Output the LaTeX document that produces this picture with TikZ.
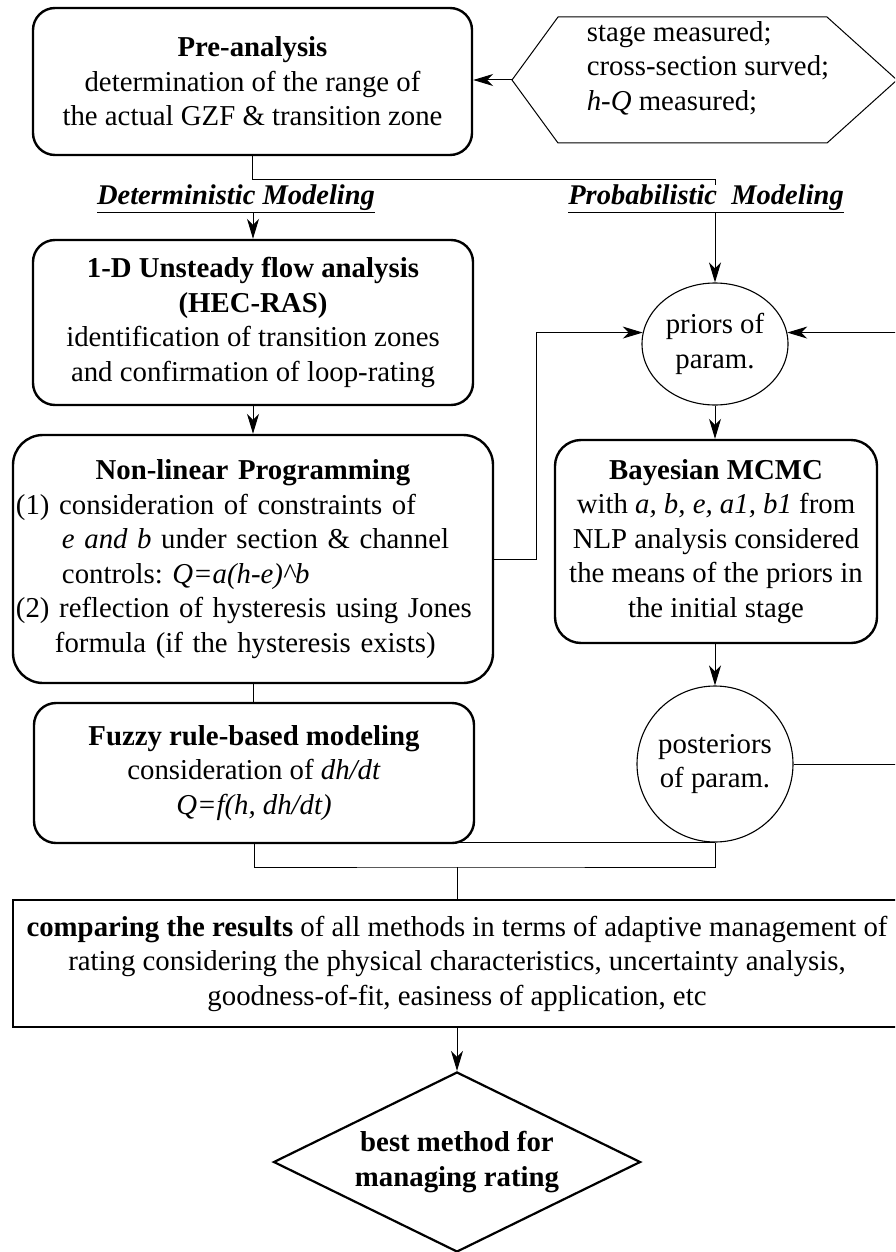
\documentclass[tikz,border=0pt]{standalone}
\usepackage{fontspec}
\setmainfont{Liberation Serif}
\usetikzlibrary{arrows.meta,shapes.geometric,calc}
\frenchspacing
\begin{document}
\begin{tikzpicture}[x=1pt,y=-1pt,
  every node/.style={font=\fontsize{28.8}{34.5}\selectfont},
  rbox/.style={draw, line width=2.4pt, rounded corners=22pt, align=center, inner sep=0pt},
  conn/.style={line width=1pt},
  arr/.style={conn, -{Stealth[length=20pt,width=12pt,inset=6pt]}},
  bubble/.style={draw, line width=1.1pt, ellipse, inner sep=0pt, align=center},
  tag/.style={font=\fontsize{28.5}{34}\selectfont\bfseries\itshape, inner sep=0pt}
]
\path[use as bounding box] (0,0) rectangle (895,1252);
\clip (0,0) rectangle (895,1252);

% field data feeding the pre-analysis
\node[align=left, inner sep=0pt] (meas) at (708,68) {stage measured;\\cross-section surved;\\\textit{h-Q} measured;};
\draw[line width=1pt] (512,80) -- (558,17) -- (827,17) -- (897,80) -- (827,143) -- (558,143) -- cycle;
\coordinate (measTip) at (512,80);

% deterministic branch
\node[rbox, minimum width=439pt, minimum height=147pt] (pre) at (252.5,81.5)
  {\textbf{Pre-analysis}\\determination of the range of\\the actual GZF \& transition zone};
\node[tag] (det) at (236,199) {\underline{Deterministic Modeling}};
\node[tag] (prob) at (706,199) {\underline{Probabilistic\ \ Modeling}};

\node[rbox, minimum width=440pt, minimum height=165pt] (flow) at (253,322.5)
  {\textbf{1-D Unsteady flow analysis}\\\textbf{(HEC-RAS)}\\identification of transition zones\\and confirmation of loop-rating};

\node[rbox, rounded corners=30pt, minimum width=480pt, minimum height=248pt, text width=474pt, align=left] (nlp) at (253,559)
  {\makebox[\linewidth][c]{\textbf{Non-linear Programming}}\\
   (1) consideration of constraints of\\
   \hspace*{46pt}\textit{e and b} under section \& channel\\
   \hspace*{46pt}controls: \textit{Q=a(h-e)\textasciicircum b}\\
   (2) reflection of hysteresis using Jones\\
   \hspace*{39pt}formula (if the hysteresis exists)};

\node[rbox, minimum width=440pt, minimum height=140pt] (fuzzy) at (254,773)
  {\textbf{Fuzzy rule-based modeling}\\consideration of \textit{dh/dt}\\\textit{Q=f(h, dh/dt)}};

% probabilistic branch
\node[bubble, minimum width=146pt, minimum height=122pt] (priors) at (715,344) {priors of\\param.};
\node[rbox, rounded corners=26pt, minimum width=322pt, minimum height=203pt] (bayes) at (716,541.5)
  {\textbf{Bayesian MCMC}\\with \textit{a, b, e, a1, b1} from\\NLP analysis considered\\the means of the priors in\\the initial stage};
\node[bubble, circle, minimum size=156pt] (post) at (715,764) {posteriors\\of param.};

% comparison and decision
\node[draw, line width=2.5pt, minimum width=888pt, minimum height=127pt, align=center, inner sep=0pt] (comp) at (457,963.5)
  {\textbf{comparing the results} of all methods in terms of adaptive management of\\rating considering the physical characteristics, uncertainty analysis,\\goodness-of-fit, easiness of application, etc};
\node[draw, diamond, aspect=2.04, line width=2.2pt, minimum width=367pt, minimum height=180pt, inner sep=0pt, align=center,
  font=\fontsize{28.8}{34.5}\selectfont\bfseries] (best) at (457,1162) {best method for\\managing rating};

% connectors
\draw[arr] (measTip) -- (measTip -| pre.east);
\draw[conn] (pre.south) -- ++(0,23) -| (priors.north |- prob.north);
\draw[arr] (flow.north |- det.south) -- (flow.north);
\draw[arr] (priors.north |- prob.south) -- (priors.north);
\draw[arr] (flow.south) -- (nlp.north);
\draw[conn] (nlp.south) -- (nlp.south |- fuzzy.north);
\draw[arr] (nlp.east) -- ++(42,0) |- (priors.171);
\draw[arr] (priors.south) -- (priors.south |- bayes.north);
\draw[arr] (post.north |- bayes.south) -- (post.north);
\draw[arr] (post.east) -- ++(190,0) |- (priors.9);
\draw[conn] (post.south) -- (post.south -| fuzzy.south);
\coordinate (merge) at (457,867);
\draw[conn] (fuzzy.south) |- (merge) -| (post.south);
\draw[conn] (merge) -- (merge |- comp.north);
\draw[arr] (comp.south -| best.north) -- (best.north);
\end{tikzpicture}
\end{document}
